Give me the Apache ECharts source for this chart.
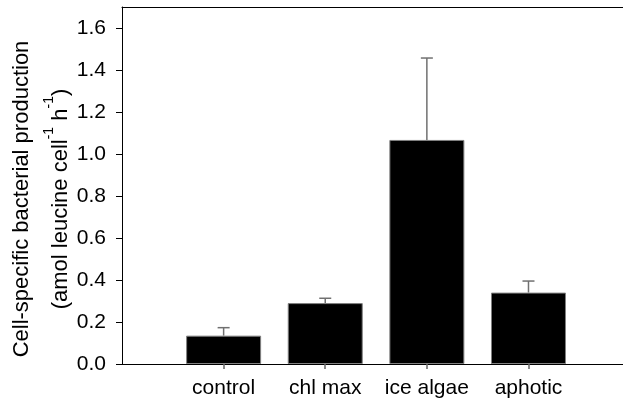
<!DOCTYPE html>
<html><head><meta charset="utf-8">
<script src="https://cdn.jsdelivr.net/npm/echarts@6/dist/echarts.min.js"></script>
<style>html,body{margin:0;padding:0;background:#fff}#c{width:623px;height:407px}</style>
</head><body><div id="c"></div>
<script>
const categories = ['control', 'chl max', 'ice algae', 'aphotic'];
const means = [0.135, 0.29, 1.067, 0.34];
const errors = [0.038, 0.023, 0.39, 0.055];
const yTicks = [0, 0.2, 0.4, 0.6, 0.8, 1.0, 1.2, 1.4, 1.6];

const font = 'Liberation Sans, Arial, sans-serif';
const chart = echarts.init(document.getElementById('c'));
const positions = categories.map((c, i) => i + 1);

chart.setOption({
  animation: false,
  grid: { left: 122, right: 0, top: 7, bottom: 43 },
  xAxis: [{
    type: 'value', min: 0, max: 4.93, interval: 1,
    axisLine: { lineStyle: { color: '#000', width: 1 } },
    axisTick: { show: true, length: 5, customValues: positions, lineStyle: { color: '#666', width: 1.5 } },
    axisLabel: { customValues: positions, formatter: v => categories[Math.round(v) - 1] || '',
      fontFamily: font, fontSize: 21, color: '#000', margin: 14 },
    splitLine: { show: false }
  }, {
    type: 'value', position: 'top', min: 0, max: 1,
    axisLine: { show: true, onZero: false, lineStyle: { color: '#000', width: 1 } },
    axisTick: { show: false }, axisLabel: { show: false }, splitLine: { show: false }
  }],
  yAxis: {
    type: 'value', min: 0, max: 1.7,
    axisLine: { show: true, lineStyle: { color: '#000', width: 1 } },
    axisTick: { show: true, length: 6, customValues: yTicks, lineStyle: { color: '#000' } },
    axisLabel: { customValues: yTicks, formatter: v => v.toFixed(1), fontFamily: font, fontSize: 21, color: '#000', margin: 16 },
    splitLine: { show: false }
  },
  series: [{
    type: 'bar',
    data: positions.map((p, i) => [p, means[i]]),
    barWidth: 75,
    itemStyle: { color: '#000', borderColor: '#808080', borderWidth: 1 },
    z: 2
  }, {
    type: 'custom',
    data: positions.map((p, i) => [p, means[i], means[i] + errors[i]]),
    renderItem: (params, api) => {
      const base = api.coord([api.value(0), api.value(1)]);
      const top = api.coord([api.value(0), api.value(2)]);
      const style = { stroke: '#707070', lineWidth: 1.5 };
      return { type: 'group', children: [
        { type: 'line', shape: { x1: base[0], y1: base[1], x2: top[0], y2: top[1] }, style },
        { type: 'line', shape: { x1: top[0] - 6, y1: top[1], x2: top[0] + 6, y2: top[1] }, style }
      ]};
    },
    z: 1
  }],
  graphic: [{
    type: 'text', x: 22, y: 199, rotation: Math.PI / 2,
    style: { text: 'Cell-specific bacterial production', fontFamily: font, fontSize: 22, fill: '#000', align: 'center', verticalAlign: 'middle' }
  }, {
    type: 'text', x: 57, y: 199, rotation: Math.PI / 2,
    style: {
      text: '{n|(amol leucine cell}{s|-1}{n| h}{s|-1}{n|)}',
      align: 'center', verticalAlign: 'middle',
      rich: {
        n: { fontFamily: font, fontSize: 22, fill: '#000', lineHeight: 30, verticalAlign: 'bottom' },
        s: { fontFamily: font, fontSize: 14, fill: '#000', lineHeight: 30, verticalAlign: 'top' }
      }
    }
  }]
});
</script></body></html>
